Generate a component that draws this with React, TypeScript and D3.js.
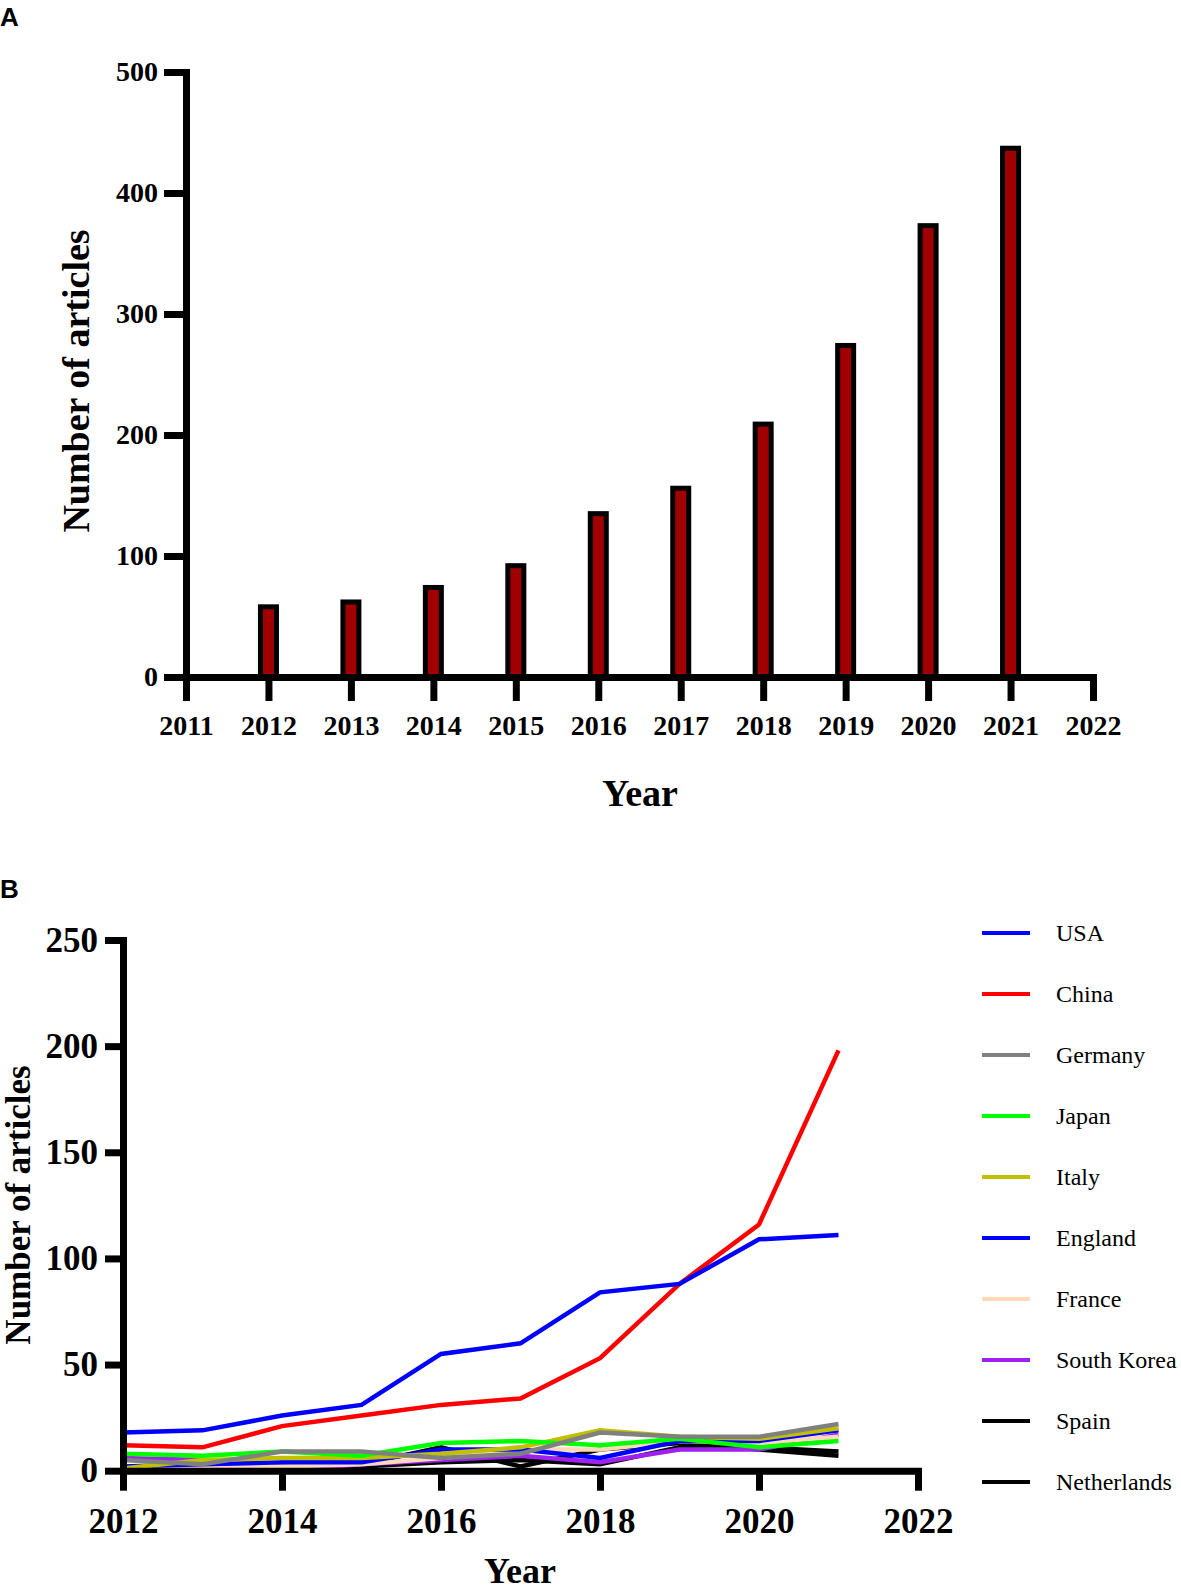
import { useEffect, useRef } from 'react';
import * as d3 from 'd3';

// Panel A: total articles per year
const yearsA = [2012, 2013, 2014, 2015, 2016, 2017, 2018, 2019, 2020, 2021];
const articlesA = [58, 62, 74, 92, 135, 156, 209, 274, 373, 437];
const xTicksA = [2011, 2012, 2013, 2014, 2015, 2016, 2017, 2018, 2019, 2020, 2021, 2022];
const yTicksA = [0, 100, 200, 300, 400, 500];

// Panel B: articles per country per year
const yearsB = [2012, 2013, 2014, 2015, 2016, 2017, 2018, 2019, 2020, 2021];
const countries = ['USA', 'China', 'Germany', 'Japan', 'Italy', 'England', 'France', 'South Korea', 'Spain', 'Netherlands'];
const usa = [18, 19, 26, 31, 55, 60, 84, 88, 109, 111];
const china = [12, 11, 21, 26, 31, 34, 53, 88, 116, 198];
const germany = [5, 3, 9, 9, 6, 8, 18, 16, 16, 22];
const japan = [8, 7, 9, 7, 13, 14, 12, 15, 11, 14];
const italy = [1, 5, 6, 6, 8, 11, 19, 16, 15, 20];
const england = [2, 3, 4, 4, 10, 10, 6, 14, 14, 19];
const france = [1, 2, 2, 3, 6, 10, 10, 14, 13, 16];
const southKorea = [6, 5, 0, 3, 5, 7, 4, 10, 10, 17];
const spain = [0, 1, 2, 3, 11, 2, 10, 13, 10, 7];
const netherlands = [0, 0, 1, 2, 4, 5, 3, 11, 11, 9];
const seriesB = [usa, china, germany, japan, italy, england, france, southKorea, spain, netherlands];
const colorsB = ['#0000ff', '#ff0000', '#808080', '#00ff00', '#c0c000', '#0000ff', '#ffdab9', '#a020f0', '#000000', '#000000'];
const xTicksB = [2012, 2014, 2016, 2018, 2020, 2022];
const yTicksB = [0, 50, 100, 150, 200, 250];

const SERIF = '"Liberation Serif", "Times New Roman", serif';
const SANS = '"Liberation Sans", Arial, sans-serif';

export default function App() {
  const svgRef = useRef<SVGSVGElement>(null);

  useEffect(() => {
    document.body.style.margin = '0';
    if (!svgRef.current) return;
    const svg = d3.select(svgRef.current);
    svg.selectAll('*').remove();

    const styleAxis = (ax: d3.Selection<SVGGElement, unknown, null, undefined>, size: number) => {
      ax.select('.domain').attr('stroke-width', 7).attr('stroke-linecap', 'square');
      ax.selectAll('.tick line').attr('stroke-width', 7);
      ax.selectAll('text')
        .attr('fill', '#000')
        .style('font-family', SERIF)
        .style('font-weight', 'bold')
        .style('font-size', `${size}px`);
    };

    // ---------- Panel A ----------
    const xA = d3.scaleLinear().domain([2011, 2022]).range([186, 1093]);
    const yA = d3.scaleLinear().domain([0, 500]).range([677, 72]);

    svg.selectAll('.bar')
      .data(yearsA)
      .join('rect')
      .attr('class', 'bar')
      .attr('x', (d: number) => xA(d) - 8)
      .attr('width', 16)
      .attr('y', (_d: number, i: number) => yA(articlesA[i]))
      .attr('height', (_d: number, i: number) => yA(0) - yA(articlesA[i]))
      .attr('fill', '#a00000')
      .attr('stroke', '#000')
      .attr('stroke-width', 5);

    const axAx = svg.append('g').attr('transform', `translate(0,${yA(0)})`);
    axAx.call(d3.axisBottom(xA).tickValues(xTicksA).tickFormat(d3.format('d')).tickSize(24).tickSizeOuter(0).tickPadding(14));
    styleAxis(axAx, 28);

    const ayAx = svg.append('g').attr('transform', `translate(${xA(2011)},0)`);
    ayAx.call(d3.axisLeft(yA).tickValues(yTicksA).tickSize(22).tickSizeOuter(0).tickPadding(6));
    styleAxis(ayAx, 28);

    svg.append('text')
      .attr('transform', 'translate(76,381) rotate(-90)')
      .attr('text-anchor', 'middle')
      .attr('dominant-baseline', 'central')
      .style('font-family', SERIF).style('font-weight', 'bold').style('font-size', '38px')
      .text('Number of articles');

    svg.append('text')
      .attr('x', 640).attr('y', 806)
      .attr('text-anchor', 'middle')
      .style('font-family', SERIF).style('font-weight', 'bold').style('font-size', '38px')
      .text('Year');

    svg.append('text')
      .attr('x', 0).attr('y', 26)
      .style('font-family', SANS).style('font-weight', 'bold').style('font-size', '26px')
      .text('A');

    // ---------- Panel B ----------
    const xB = d3.scaleLinear().domain([2012, 2022]).range([123, 918]);
    const yB = d3.scaleLinear().domain([0, 250]).range([1470.7, 940]);

    const line = d3.line<number>()
      .x((_d: number, i: number) => xB(yearsB[i]))
      .y((d: number) => yB(d));

    const order = d3.range(seriesB.length).reverse();
    svg.selectAll('.country')
      .data(order)
      .join('path')
      .attr('class', 'country')
      .attr('d', (k: number) => line(seriesB[k]))
      .attr('fill', 'none')
      .attr('stroke', (k: number) => colorsB[k])
      .attr('stroke-width', 4.5)
      .attr('stroke-linejoin', 'miter');

    const bxAx = svg.append('g').attr('transform', `translate(0,${yB(0)})`);
    bxAx.call(d3.axisBottom(xB).tickValues(xTicksB).tickFormat(d3.format('d')).tickSize(20).tickSizeOuter(0).tickPadding(17));
    styleAxis(bxAx, 35);

    const byAx = svg.append('g').attr('transform', `translate(${xB(2012)},0)`);
    byAx.call(d3.axisLeft(yB).tickValues(yTicksB).tickSize(18).tickSizeOuter(0).tickPadding(7));
    styleAxis(byAx, 35);

    svg.append('text')
      .attr('transform', 'translate(18,1205) rotate(-90)')
      .attr('text-anchor', 'middle')
      .attr('dominant-baseline', 'central')
      .style('font-family', SERIF).style('font-weight', 'bold').style('font-size', '35px')
      .text('Number of articles');

    svg.append('text')
      .attr('x', 520).attr('y', 1583)
      .attr('text-anchor', 'middle')
      .style('font-family', SERIF).style('font-weight', 'bold').style('font-size', '36px')
      .text('Year');

    svg.append('text')
      .attr('x', 0).attr('y', 898)
      .style('font-family', SANS).style('font-weight', 'bold').style('font-size', '26px')
      .text('B');

    // Legend
    const legend = svg.append('g');
    const rows = legend.selectAll('g')
      .data(countries)
      .join('g')
      .attr('transform', (_d: string, i: number) => `translate(982,${933 + i * 61})`);
    rows.append('line')
      .attr('x1', 0).attr('x2', 48)
      .attr('stroke', (_d: string, i: number) => colorsB[i])
      .attr('stroke-width', 4);
    rows.append('text')
      .attr('x', 74)
      .attr('dominant-baseline', 'central')
      .style('font-family', SERIF).style('font-size', '24px')
      .text((d: string) => d);
  }, []);

  return <svg ref={svgRef} width={1181} height={1587} style={{ display: 'block', background: '#fff' }} />;
}
